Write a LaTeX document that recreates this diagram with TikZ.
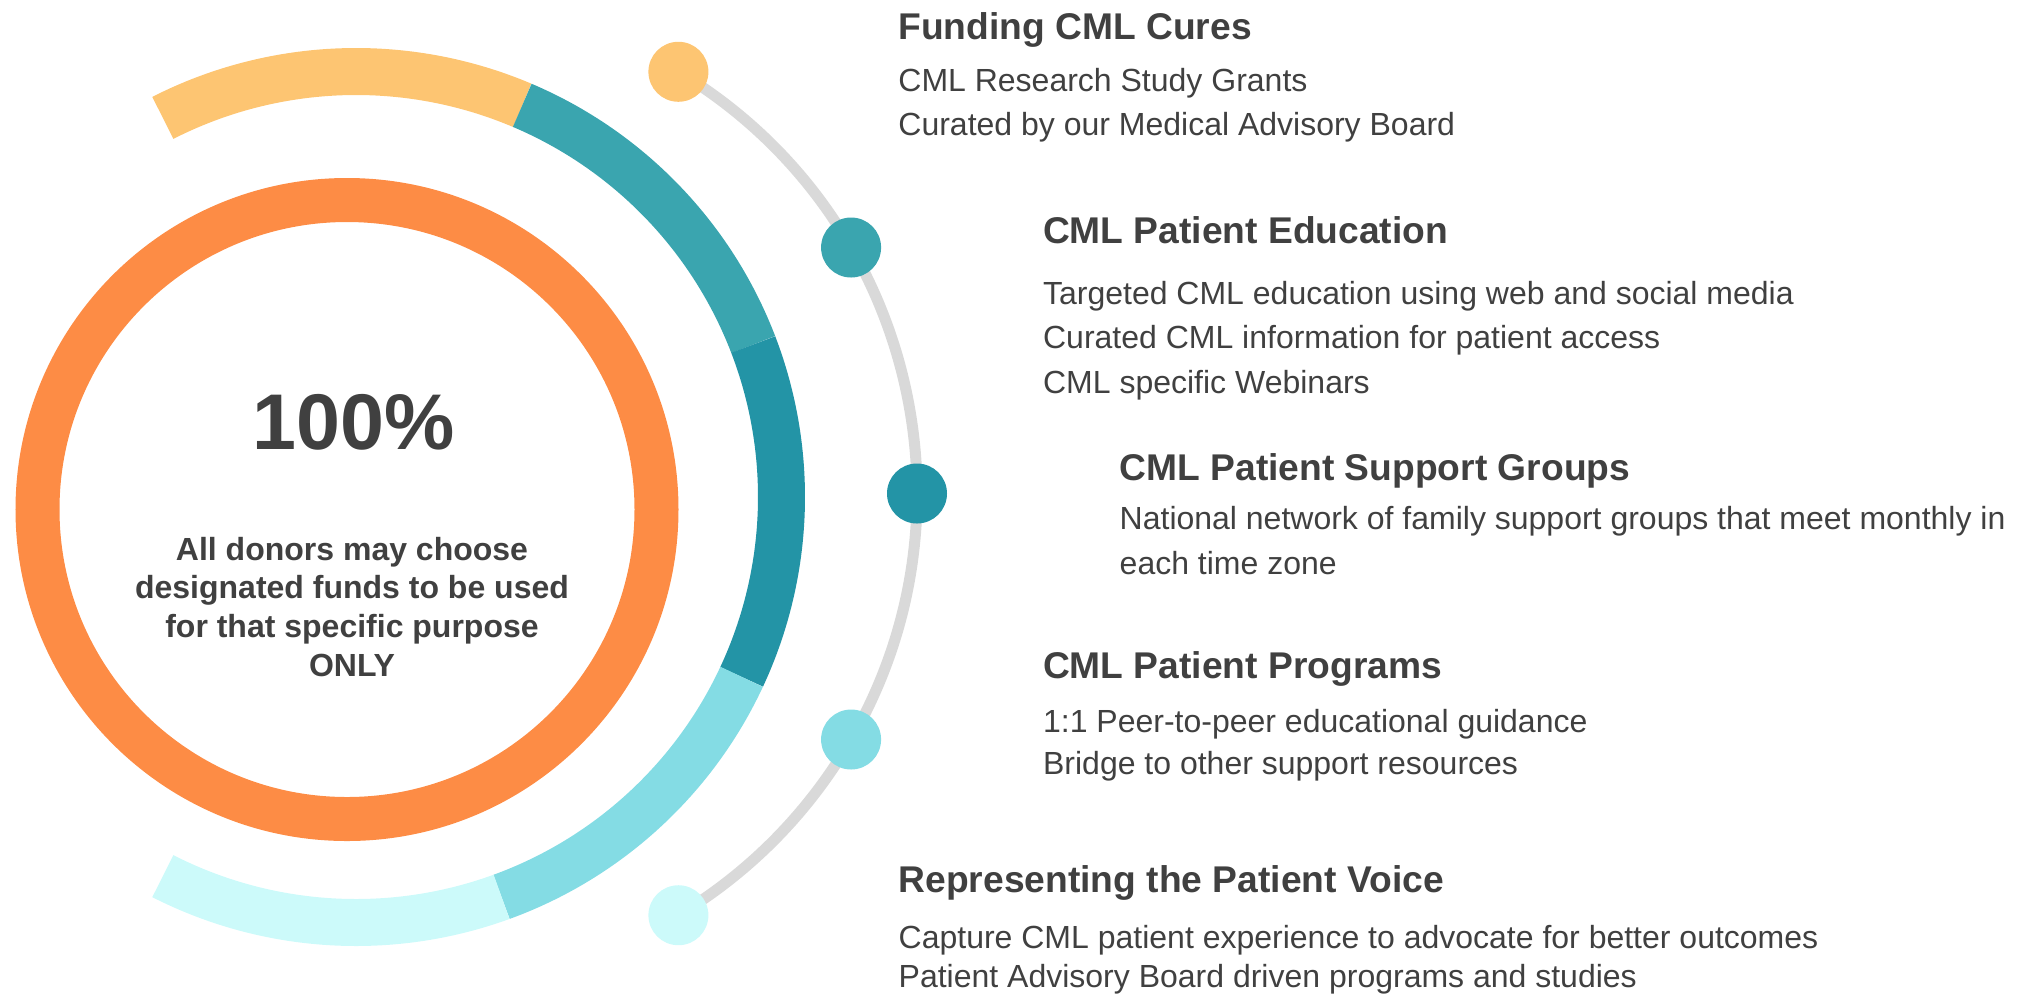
\documentclass[tikz,border=0pt]{standalone}
\usepackage{fontspec}
\setmainfont{Liberation Sans}
\usepackage{tikz}
\definecolor{cmlorange}{HTML}{FD8C45}
\definecolor{cmlyellow}{HTML}{FDC572}
\definecolor{cmlteal}{HTML}{3AA5AF}
\definecolor{cmldeep}{HTML}{2394A6}
\definecolor{cmlsky}{HTML}{84DCE4}
\definecolor{cmlice}{HTML}{CCFAFA}
\definecolor{cmlgray}{HTML}{D9D9D9}
\definecolor{ink}{HTML}{404040}

\begin{document}
\begin{tikzpicture}[x=0.5pt,y=0.5pt,
    band/.style={line width=23.5pt},
    dot/.style={circle,minimum size=30pt,inner sep=0pt},
    head/.style={anchor=base west,inner sep=0pt,text=ink,font=\fontsize{18.6}{22}\selectfont\bfseries},
    body/.style={anchor=base west,inner sep=0pt,text=ink,font=\fontsize{16}{19}\selectfont}]
    \useasboundingbox (0,0) rectangle (2026,-993);

    \coordinate (o) at (347,-509.5);
    \coordinate (s) at (356,-497);
    \coordinate (g) at (425,-493.5);

    \draw[cmlorange,line width=22pt] (o) circle[radius=309.5];

    \draw[band,cmlyellow] ([shift={(117:425.5)}]s) arc[start angle=117,end angle=67,radius=425.5];
    \draw[band,cmlteal] ([shift={(67:425.5)}]s) arc[start angle=67,end angle=21,radius=425.5];
    \draw[band,cmldeep] ([shift={(21:425.5)}]s) arc[start angle=21,end angle=-25,radius=425.5];
    \draw[band,cmlsky] ([shift={(-25:425.5)}]s) arc[start angle=-25,end angle=-70,radius=425.5];
    \draw[band,cmlice] ([shift={(-70:425.5)}]s) arc[start angle=-70,end angle=-117,radius=425.5];

    \node[anchor=base,inner sep=0pt,text=ink,font=\fontsize{39.5}{46}\selectfont\bfseries] (pct) at (354,-449) {100\%};
    \node[anchor=base,inner sep=0pt,text=ink,align=center,font=\fontsize{16}{19.4}\selectfont\bfseries] (note) at (352,-676.4)
        {All donors may choose\\designated funds to be used\\for that specific purpose\\ONLY};

    \coordinate (g1) at ([shift={(59:492)}]g);
    \coordinate (g2) at ([shift={(30:492)}]g);
    \coordinate (g3) at ([shift={(0:492)}]g);
    \coordinate (g4) at ([shift={(-30:492)}]g);
    \coordinate (g5) at ([shift={(-59:492)}]g);
    \draw[cmlgray,line width=5.5pt] (g1) arc[start angle=59,end angle=-59,radius=492];

    \node[dot,fill=cmlyellow] (fund) at (g1) {};
    \node[dot,fill=cmlteal] (edu) at (g2) {};
    \node[dot,fill=cmldeep] (grp) at (g3) {};
    \node[dot,fill=cmlsky] (prog) at (g4) {};
    \node[dot,fill=cmlice] (voice) at (g5) {};

    \node[head] (fundh) at (898,-39.3) {Funding CML Cures};
    \node[body] (fund1) at (898,-91.7) {CML Research Study Grants};
    \node[body] (fund2) at (898,-135) {Curated by our Medical Advisory Board};

    \node[head] (eduh) at (1042.7,-243.3) {CML Patient Education};
    \node[body] (edu1) at (1042.7,-304) {Targeted CML education using web and social media};
    \node[body] (edu2) at (1042.7,-348.3) {Curated CML information for patient access};
    \node[body] (edu3) at (1042.7,-393.3) {CML specific Webinars};

    \node[head] (grph) at (1119.3,-480) {CML Patient Support Groups};
    \node[body] (grp1) at (1119.3,-529.3) {National network of family support groups that meet monthly in};
    \node[body] (grp2) at (1119.3,-574.3) {each time zone};

    \node[head] (progh) at (1042.7,-678) {CML Patient Programs};
    \node[body] (prog1) at (1042.7,-732) {1:1 Peer-to-peer educational guidance};
    \node[body] (prog2) at (1042.7,-774.7) {Bridge to other support resources};

    \node[head] (voiceh) at (898.3,-892.3) {Representing the Patient Voice};
    \node[body] (voice1) at (898.3,-948) {Capture CML patient experience to advocate for better outcomes};
    \node[body] (voice2) at (898.3,-987) {Patient Advisory Board driven programs and studies};
\end{tikzpicture}
\end{document}
